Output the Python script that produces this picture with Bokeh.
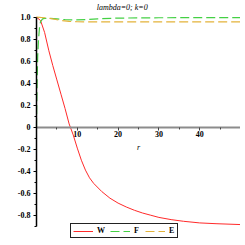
from bokeh.plotting import figure
from bokeh.models import (FixedTicker, PrintfTickFormatter, Legend, LegendItem,
                          Label)
from bokeh.embed import file_html
from bokeh.resources import INLINE

# ---- data ----
r_w = [0, 1, 2, 3, 4, 5, 6, 7, 8, 9, 10, 11, 12, 13, 14, 16, 18, 20, 22, 24,
       26, 28, 30, 33, 36, 40, 44, 50]
W = [1.0, 0.97, 0.86, 0.70, 0.56, 0.43, 0.30, 0.17, 0.03, -0.07, -0.19, -0.30,
     -0.39, -0.46, -0.51, -0.585, -0.645, -0.69, -0.725, -0.755, -0.78, -0.80,
     -0.82, -0.84, -0.855, -0.87, -0.877, -0.885]

r_f = [0, 0.05, 0.15, 0.3, 0.5, 0.75, 1.0, 1.5, 2, 3, 5, 7, 9, 12, 15, 20, 30, 40, 50]
F = [0.0, 0.15, 0.40, 0.65, 0.80, 0.91, 0.96, 0.985, 0.99, 0.99, 0.985, 0.978,
     0.975, 0.978, 0.985, 0.992, 0.995, 0.996, 0.996]

r_e = [0, 2, 4, 6, 8, 10, 14, 20, 30, 40, 50]
E = [1.0, 0.995, 0.985, 0.97, 0.962, 0.959, 0.958, 0.958, 0.958, 0.958, 0.958]

x_bounds = (0, 50)
y_bounds = (-0.9, 1.0)
x_major = [10, 20, 30, 40]
x_minor = [5, 15, 25, 35, 45]
y_major = [-0.8, -0.6, -0.4, -0.2, 0, 0.2, 0.4, 0.6, 0.8, 1.0]
y_minor = [-0.9, -0.7, -0.5, -0.3, -0.1, 0.1, 0.3, 0.5, 0.7, 0.9]

title_text = "lambda=0; k=0"
x_label = "r"

# ---- figure (frame fills canvas; axes drawn at the origin with bounds) ----
p = figure(width=240, height=242, x_range=(-8.82, 50), y_range=(-1.048, 1.152),
           output_backend="svg", toolbar_location=None,
           min_border_left=0, min_border_right=0, min_border_top=0,
           min_border_bottom=0)
p.outline_line_color = None
p.xgrid.visible = False
p.ygrid.visible = False
p.background_fill_color = "white"
p.border_fill_color = "white"

serif = "Liberation Serif"

# x axis through y=0
xa = p.xaxis[0]
xa.fixed_location = 0
xa.bounds = x_bounds
xa.ticker = FixedTicker(ticks=x_major, minor_ticks=x_minor)
xa.axis_line_color = "#8c8c8c"
xa.axis_line_width = 2
xa.major_tick_in = 0
xa.major_tick_out = 3
xa.minor_tick_in = 0
xa.minor_tick_out = 2
xa.major_tick_line_color = "#444444"
xa.minor_tick_line_color = "#444444"
xa.major_label_text_font = serif
xa.major_label_text_font_size = "8px"
xa.major_label_text_font_style = "bold"
xa.major_label_text_color = "black"
xa.major_label_standoff = 1
xa.axis_label = x_label
xa.axis_label_text_font = serif
xa.axis_label_text_font_style = "italic"
xa.axis_label_text_font_size = "8px"
xa.axis_label_text_color = "black"
xa.axis_label_standoff = 2

# y axis through x=0
ya = p.yaxis[0]
ya.fixed_location = 0
ya.bounds = y_bounds
ya.ticker = FixedTicker(ticks=y_major, minor_ticks=y_minor)
ya.formatter = PrintfTickFormatter(format="%.1f")
ya.major_label_overrides = {0: "0"}
ya.axis_line_color = "black"
ya.axis_line_width = 1.5
ya.major_tick_in = 0
ya.major_tick_out = 3
ya.minor_tick_in = 0
ya.minor_tick_out = 2
ya.major_tick_line_color = "black"
ya.minor_tick_line_color = "black"
ya.major_label_text_font = serif
ya.major_label_text_font_size = "8px"
ya.major_label_text_font_style = "bold"
ya.major_label_text_color = "black"
ya.major_label_standoff = 3

# ---- curves ----
lw = p.line(r_w, W, line_color="#ff2a2a", line_width=1)
lf = p.line(r_f, F, line_color="#44d044", line_width=1.2, line_dash="9 4")
le = p.line(r_e, E, line_color="#e3b33a", line_width=1.2, line_dash="9 4")

# ---- title ----
p.add_layout(Label(x=21, y=1.0, y_offset=9.5, text=title_text,
                   text_font=serif, text_font_style="italic",
                   text_font_size="8px", text_align="center",
                   text_baseline="middle", text_color="black"))

# ---- legend ----
legend = Legend(items=[LegendItem(label="W", renderers=[lw]),
                       LegendItem(label="F", renderers=[lf]),
                       LegendItem(label="E", renderers=[le])],
                location=(70, 4), orientation="horizontal",
                glyph_width=20, glyph_height=8, label_height=8,
                label_width=6, label_standoff=4, spacing=5, padding=2,
                margin=0,
                label_text_font=serif, label_text_font_style="bold",
                label_text_font_size="8px", label_text_color="black",
                border_line_color="#222222", border_line_width=1.5,
                border_line_alpha=1.0,
                background_fill_color="white", background_fill_alpha=1)
p.add_layout(legend)

open("out.html", "w").write(file_html(p, INLINE))
